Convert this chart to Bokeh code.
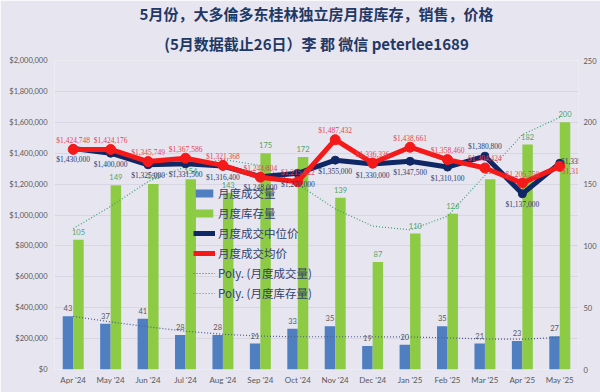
from bokeh.plotting import figure
from bokeh.models import (ColumnDataSource, FactorRange, LinearAxis, Range1d, LabelSet,
                          NumeralTickFormatter, FixedTicker, Legend, LegendItem, Title)
from bokeh.transform import dodge
from bokeh.core.properties import value
from bokeh.embed import file_html
from bokeh.resources import INLINE

# ---------------- data ----------------
months = ["Apr '24", "May '24", "Jun '24", "Jul '24", "Aug '24", "Sep '24", "Oct '24",
          "Nov '24", "Dec '24", "Jan '25", "Feb '25", "Mar '25", "Apr '25", "May '25"]
sales = [43, 37, 41, 28, 28, 21, 33, 35, 19, 20, 35, 21, 23, 27]
inventory = [105, 149, 150, 154, 143, 175, 172, 139, 87, 110, 126, 154, 182, 200]
median_price = [1430000, 1400000, 1325000, 1331500, 1316400, 1248000, 1270000,
                1355000, 1330000, 1347500, 1310100, 1380800, 1137000, 1335000]
avg_price = [1424748, 1424176, 1345749, 1367586, 1321368, 1244804, 1215622,
             1487432, 1336336, 1438661, 1358460, 1304424, 1206750, 1314778]
sales_trend = [43, 38.5, 34.5, 31, 28.5, 27, 26.5, 26.5, 26.5, 26.3, 25.6, 24.7, 24.5, 26]
inventory_trend = [114, 132, 152, 164, 170, 165, 150, 130, 116, 113, 124, 157, 190, 204]

price_ticks = list(range(0, 2000001, 200000))
count_ticks = [0, 50, 100, 150, 200, 250]

# ---------------- styles ----------------
BG = "#E7E5F0"
BLUE = "#4F7FC1"
GREEN = "#8DCB45"
NAVY = "#102766"
RED = "#F51A1A"
RED_TXT = "#E4464E"
NAVY_TXT = "#2B3A6B"
GRAY_TXT = "#595959"
GREEN_TXT = "#4FA56B"
LBL_FONT = value("Lato")

src = ColumnDataSource(dict(
    month=months, sales=sales, inventory=inventory,
    median=median_price, avg=avg_price,
    sales_trend=sales_trend, inv_trend=inventory_trend,
    sales_txt=[str(v) for v in sales],
    inv_txt=[str(v) for v in inventory],
    med_txt=["${:,}".format(v) for v in median_price],
    avg_txt=["${:,}".format(v) for v in avg_price],
))
# label placement (style only)
n = len(months)
med_dx = [0] * n
med_dy = [-11] * n
med_dy[11] = 10
med_dx[13], med_dy[13] = 18, 2
avg_dx = [0] * n
avg_dy = [9] * n
avg_dx[13], avg_dy[13] = 19, -5
src.data.update(med_dx=med_dx, med_dy=med_dy, avg_dx=avg_dx, avg_dy=avg_dy)

p = figure(width=600, height=392, x_range=FactorRange(*months),
           y_range=Range1d(0, 2000000), output_backend="svg", toolbar_location=None,
           background_fill_color=BG, border_fill_color=BG, outline_line_color=None,
           min_border_left=54, min_border_right=22, min_border_bottom=23, min_border_top=58)
p.extra_y_ranges = {"cnt": Range1d(0, 250)}

# titles
p.add_layout(Title(text="(5月数据截止26日）李 郡 微信 peterlee1689", align="center",
                   text_font_size="15px", text_font="Noto Sans CJK SC", text_font_style="bold",
                   text_color="#1F3864", standoff=14), "above")
p.add_layout(Title(text="5月份，大多倫多东桂林独立房月度库存，销售，价格", align="center",
                   text_font_size="15px", text_font="Noto Sans CJK SC", text_font_style="bold",
                   text_color="#1F3864", standoff=0), "above")

# axes
p.yaxis.ticker = FixedTicker(ticks=price_ticks)
p.yaxis.formatter = NumeralTickFormatter(format="$0,0")
raxis = LinearAxis(y_range_name="cnt", ticker=FixedTicker(ticks=count_ticks))
p.add_layout(raxis, "right")
for ax in [p.yaxis[0], raxis, p.xaxis[0]]:
    ax.axis_line_color = None
    ax.major_tick_line_color = None
    ax.minor_tick_line_color = None
    ax.major_tick_in = 0
    ax.major_tick_out = 0
    ax.minor_tick_in = 0
    ax.minor_tick_out = 0
    ax.major_label_text_font_size = "7.5px"
    ax.major_label_text_color = GRAY_TXT
    ax.major_label_text_font = "Lato"
p.xaxis.major_label_text_font_size = "8px"
p.xaxis.major_label_standoff = 5
p.yaxis[0].major_label_standoff = 7
raxis.major_label_standoff = 5
p.xgrid.grid_line_color = None
p.ygrid.grid_line_color = "#D9D6E4"
p.ygrid.grid_line_width = 1

# bars
r_sales = p.vbar(x=dodge("month", -0.14, range=p.x_range), top="sales", width=0.28,
                 source=src, y_range_name="cnt", color=BLUE, line_color=None)
r_inv = p.vbar(x=dodge("month", 0.14, range=p.x_range), top="inventory", width=0.28,
               source=src, y_range_name="cnt", color=GREEN, line_color=None)

# trend lines
r_st = p.line("month", "sales_trend", source=src, y_range_name="cnt",
              line_color="#4A5E86", line_width=1.2, line_dash="1 2")
r_it = p.line("month", "inv_trend", source=src, y_range_name="cnt",
              line_color="#3E9E78", line_width=1.2, line_dash="1 2")

# bar labels
p.text(x=dodge("month", -0.14, range=p.x_range), y="sales", text="sales_txt", source=src,
       y_range_name="cnt", text_font=LBL_FONT, text_font_size="7.5px", text_color=GRAY_TXT,
       text_align="center", text_baseline="middle", y_offset=-8)
p.text(x=dodge("month", 0.14, range=p.x_range), y="inventory", text="inv_txt", source=src,
       y_range_name="cnt", text_font=LBL_FONT, text_font_size="7.5px", text_color=GREEN_TXT,
       text_align="center", text_baseline="middle", y_offset=-8)

# price lines
r_med_l = p.line("month", "median", source=src, line_color=NAVY, line_width=5)
r_med_m = p.scatter("month", "median", source=src, size=8, color=NAVY)
r_avg_l = p.line("month", "avg", source=src, line_color=RED, line_width=5)
r_avg_m = p.scatter("month", "avg", source=src, size=10, color=RED)

p.add_layout(LabelSet(x="month", y="median", text="med_txt", source=src,
                      text_font="Lato", text_font_size="7.5px", text_color=NAVY_TXT,
                      text_align="center", text_baseline="middle",
                      x_offset="med_dx", y_offset="med_dy"))
p.add_layout(LabelSet(x="month", y="avg", text="avg_txt", source=src,
                      text_font="Lato", text_font_size="7.5px", text_color=RED_TXT,
                      text_align="center", text_baseline="middle",
                      x_offset="avg_dx", y_offset="avg_dy"))

legend = Legend(items=[
    LegendItem(label="月度成交量", renderers=[r_sales]),
    LegendItem(label="月度库存量", renderers=[r_inv]),
    LegendItem(label="月度成交中位价", renderers=[r_med_l, r_med_m]),
    LegendItem(label="月度成交均价", renderers=[r_avg_l, r_avg_m]),
    LegendItem(label="Poly. (月度成交量)", renderers=[r_st]),
    LegendItem(label="Poly. (月度库存量)", renderers=[r_it]),
], location=(139, 68), background_fill_alpha=0, border_line_color=None,
    label_text_font="Noto Sans CJK SC", label_text_font_size="11.5px",
    label_text_color="#34406B", glyph_width=22, glyph_height=10, label_height=14,
    spacing=4, label_standoff=3, padding=0, margin=0)
p.add_layout(legend, "center")

open("out.html", "w").write(file_html(p, INLINE))
